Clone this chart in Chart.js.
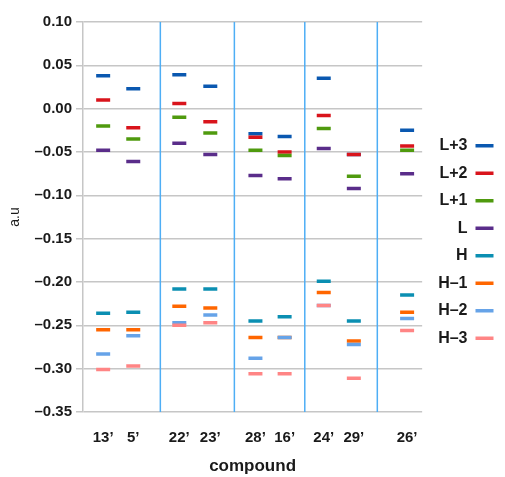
<!DOCTYPE html>
<html><head><meta charset="utf-8">
<script src="https://cdn.jsdelivr.net/npm/chart.js@4"></script>
<style>html,body{margin:0;padding:0;background:#fff}#wrap{width:505px;height:477px;position:relative}</style>
</head><body><div id="wrap"><canvas id="c"></canvas></div>
<script>
const compounds = ["13’","5’","22’","23’","28’","16’","24’","29’","26’"];
const compoundX = [0.67,1.67,3.2,4.23,5.73,6.7,8.0,9.0,10.77];
const separatorX = [2.57,5.03,7.37,9.78];
const xMax = 11.27;
const orbitals = ["L+3","L+2","L+1","L","H","H–1","H–2","H–3"];
const L3 = [0.038,0.023,0.039,0.026,-0.029,-0.032,0.035,-0.053,-0.025];
const L2 = [0.010,-0.022,0.006,-0.015,-0.033,-0.050,-0.008,-0.053,-0.043];
const L1 = [-0.020,-0.035,-0.010,-0.028,-0.048,-0.054,-0.023,-0.078,-0.048];
const L0 = [-0.048,-0.061,-0.040,-0.053,-0.077,-0.081,-0.046,-0.092,-0.075];
const H0 = [-0.236,-0.235,-0.208,-0.208,-0.245,-0.240,-0.199,-0.245,-0.215];
const H1 = [-0.255,-0.255,-0.228,-0.230,-0.264,-0.264,-0.212,-0.268,-0.235];
const H2 = [-0.283,-0.262,-0.247,-0.238,-0.288,-0.264,-0.227,-0.272,-0.242];
const H3 = [-0.301,-0.297,-0.250,-0.247,-0.306,-0.306,-0.227,-0.311,-0.256];
const yMin = -0.35, yMax = 0.10, yStep = 0.05;
const colors = ["#0a58b0","#d9141c","#4f9a0e","#5a2d8a","#0b8fb2","#ff6600","#66a3e8","#ff8585"];

const series = [L3,L2,L1,L0,H0,H1,H2,H3];
const FONT = "'Liberation Sans', Arial, sans-serif";
const datasets = series.map((vals,k)=>({
  type:'scatter',
  label: orbitals[k],
  data: vals.map((v,i)=>({x:compoundX[i], y:v})),
  pointStyle:'line', pointRadius:7, pointHoverRadius:7,
  pointBorderWidth:3.5, borderWidth:3.5,
  borderColor:colors[k], backgroundColor:colors[k],
  pointBorderColor:colors[k], pointBackgroundColor:colors[k],
  showLine:false, order:-k
}));
separatorX.forEach(s=>{
  datasets.push({type:'line', label:'', data:[{x:s,y:yMin},{x:s,y:yMax}],
    borderColor:'#4eaef5', borderWidth:1.5, pointRadius:0, fill:false, order:20});
});

new Chart(document.getElementById('c'), {
  data:{datasets},
  options:{
    responsive:true, maintainAspectRatio:false, animation:false, events:[],
    layout:{padding:{top:7,right:0,bottom:0,left:0}},
    scales:{
      x:{type:'linear', min:0, max:xMax,
        afterBuildTicks:(s)=>{ s.ticks = compoundX.map(v=>({value:v})); },
        afterFit:(s)=>{ s.height = 65; },
        grid:{display:false, drawTicks:false}, border:{display:false},
        ticks:{autoSkip:false, maxRotation:0, padding:17, color:'#1a1a1a',
          font:{family:FONT, size:15, weight:'bold'},
          callback:(v,i)=>compounds[i]},
        title:{display:true, text:'compound', color:'#1a1a1a', padding:{top:0,bottom:0},
          font:{family:FONT, size:17, weight:'bold'}}
      },
      y:{type:'linear', min:yMin, max:yMax,
        afterFit:(s)=>{ s.width = 83; },
        grid:{color:'#c6c6c6', lineWidth:1.5, tickLength:7},
        border:{color:'#c6c6c6', width:1.5},
        ticks:{stepSize:yStep, padding:4, color:'#1a1a1a',
          font:{family:FONT, size:15, weight:'bold'},
          callback:(v)=>{ const a=Math.abs(v).toFixed(2); return v < -1e-9 ? '\u2013'+a : a; }},
        title:{display:true, text:'a.u', color:'#1a1a1a', padding:{top:7,bottom:0},
          font:{family:FONT, size:14}}
      },
      pad:{position:'right', display:true, afterFit:(s)=>{ s.width = 6; },
        grid:{display:false, drawTicks:false}, border:{display:false}, ticks:{display:false}},
      padTop:{axis:'x', type:'linear', position:'top', display:true, afterFit:(s)=>{ s.height = 15; },
        grid:{display:false, drawTicks:false}, border:{display:false}, ticks:{display:false}}
    },
    plugins:{
      tooltip:{enabled:false},
      legend:{position:'right', rtl:true,
        labels:{usePointStyle:true, pointStyleWidth:18, padding:11.5, color:'#1a1a1a',
          font:{family:FONT, size:16, weight:'bold'},
          filter:(it)=>it.datasetIndex < 8,
          sort:(a,b)=>a.datasetIndex-b.datasetIndex}
      }
    }
  }
});
</script></body></html>
